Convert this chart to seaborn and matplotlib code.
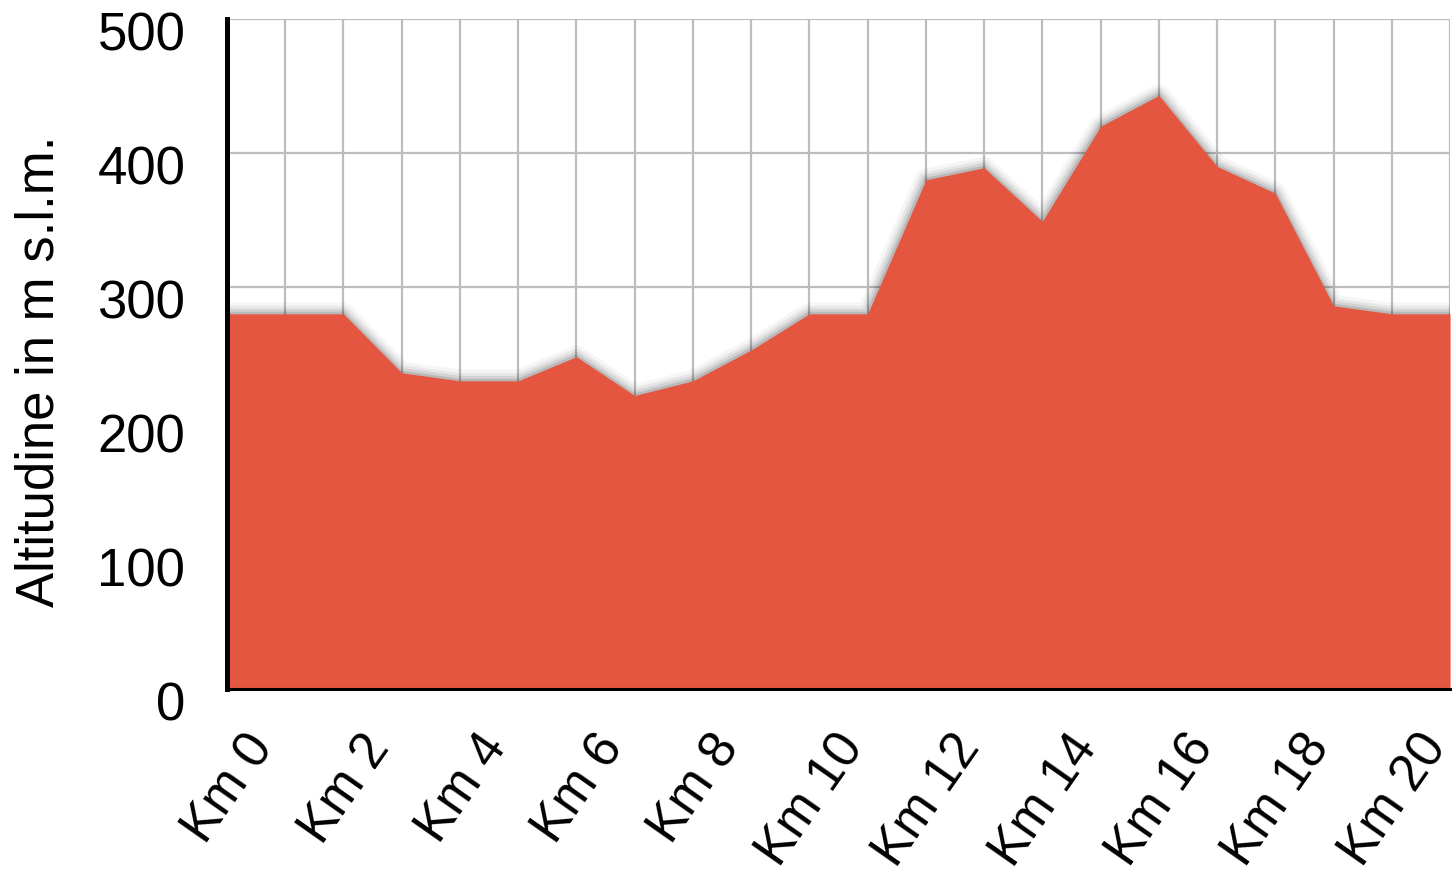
import numpy as np
import pandas as pd
import matplotlib
matplotlib.use("Agg")
import matplotlib.pyplot as plt
import matplotlib.transforms as mtransforms
import seaborn as sns

# Elevation profile, one reading per km
km = [0, 1, 2, 3, 4, 5, 6, 7, 8, 9, 10, 11, 12, 13, 14, 15, 16, 17, 18, 19, 20, 21]
altitude = [280, 280, 280, 236, 230, 230, 248, 219, 230, 253, 280,
            280, 380, 389, 349, 420, 443, 390, 370, 286, 280, 280]
label_km = [0, 2, 4, 6, 8, 10, 12, 14, 16, 18, 20]
y_ticks = [0, 100, 200, 300, 400, 500]

df = pd.DataFrame({"km": km, "altitude": altitude})

sns.set_theme(style="whitegrid")
plt.rcParams["font.family"] = ["Liberation Sans", "DejaVu Sans"]

fig, ax = plt.subplots(figsize=(14.54, 8.78), dpi=100)
fig.subplots_adjust(left=0.1561, right=0.9973, bottom=0.2141, top=0.9772)

fill_color = "#E55641"

# soft shadow along the top edge
for lw, a in [(16, 0.04), (11, 0.06), (7, 0.08), (3, 0.12)]:
    sns.lineplot(data=df, x="km", y="altitude", ax=ax, color="black",
                 lw=lw, alpha=a, zorder=2, legend=False)

ax.fill_between(df["km"], df["altitude"], 0, color=fill_color, lw=0, zorder=3)

ax.set_xlim(0, 21)
ax.set_ylim(0, 500)

ax.set_xticks(label_km)
ax.set_xticklabels([f"Km {k}" for k in label_km])
ax.set_xticks(km, minor=True)
ax.set_yticks(y_ticks)

ax.grid(True, which="both", axis="x", color="#BDBDBD", lw=1.6)
ax.grid(True, which="major", axis="y", color="#BDBDBD", lw=1.6)
ax.set_axisbelow(True)
ax.set_facecolor("white")

ax.tick_params(axis="both", which="both", length=0, labelsize=37, colors="black")
ax.tick_params(axis="x", pad=22)
ax.tick_params(axis="y", pad=30)
for lab in ax.get_xticklabels():
    lab.set_rotation(55)
    lab.set_ha("center")
    lab.set_transform(lab.get_transform() + mtransforms.ScaledTranslation(0.02, -0.05, fig.dpi_scale_trans))
for lab in ax.get_yticklabels():
    lab.set_fontsize(38)
    lab.set_transform(lab.get_transform() + mtransforms.ScaledTranslation(0, -0.11, fig.dpi_scale_trans))

ax.set_xlabel("")
ax.set_ylabel("Altitudine in m s.l.m.", fontsize=38, color="black")
ax.yaxis.set_label_coords(-0.133, 0.476)

for side in ["top", "right"]:
    ax.spines[side].set_visible(False)
ax.spines["left"].set_color("black")
ax.spines["left"].set_linewidth(3.6)
ax.spines["bottom"].set_color("black")
ax.spines["bottom"].set_linewidth(2.2)
ax.spines["left"].set_zorder(5)
ax.spines["bottom"].set_zorder(5)

fig.savefig("out.png", dpi=100, facecolor="white")
